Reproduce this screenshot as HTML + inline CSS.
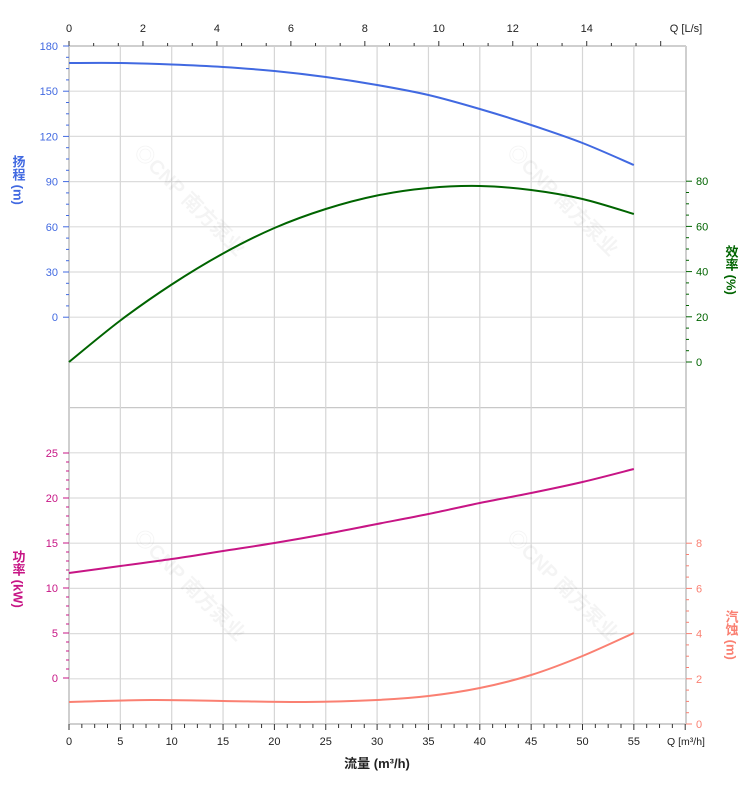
<!DOCTYPE html>
<html><head><meta charset="utf-8"><style>
body{margin:0;background:#fff;}
svg{display:block;font-family:"Liberation Sans","Noto Sans CJK SC",sans-serif;}
</style></head><body>
<svg id="s" width="752" height="797" xmlns="http://www.w3.org/2000/svg"></svg>
<script>
const s=document.getElementById('s');let h='';
const X=q=>69+10.27*q;
const L=69,R=686,T=46,B=724;
for(let k=0;k<=15;k++){const y=T+k*45.2;h+=`<line x1="${L}" x2="${R}" y1="${y}" y2="${y}" stroke="${k==8?'#c8c8c8':'#dcdcdc'}" stroke-width="1.2"/>`;}
for(let q=5;q<=55;q+=5){h+=`<line x1="${X(q)}" x2="${X(q)}" y1="${T}" y2="${B}" stroke="#d6d6d6" stroke-width="1.2"/>`;}
[[185,205],[558,205],[185,590],[558,590]].forEach(([x,y])=>{h+=`<text x="${x}" y="${y}" transform="rotate(45 ${x} ${y})" text-anchor="middle" font-size="20" font-weight="bold" fill="#000" opacity="0.04">◎CNP 南方泵业</text>`;});
h+=`<line x1="${L}" x2="${L}" y1="${T}" y2="${B}" stroke="#cfcfcf" stroke-width="2"/>`;
h+=`<line x1="${R}" x2="${R}" y1="${T}" y2="${B}" stroke="#cfcfcf" stroke-width="2"/>`;
h+=`<line x1="${L}" x2="${R}" y1="${T}" y2="${T}" stroke="#cfcfcf" stroke-width="2"/>`;
h+=`<line x1="${L}" x2="${R}" y1="${B}" y2="${B}" stroke="#cfcfcf" stroke-width="2"/>`;
for(let i=0;i<=24;i++){const v=i*2/3;const x=69+36.98*v;if(x>R-5)break;const maj=i%3==0;h+=`<line x1="${x}" x2="${x}" y1="${T}" y2="${T-(maj?5:3)}" stroke="#333"/>`;if(maj&&v<15)h+=`<text x="${x}" y="32" font-size="11" text-anchor="middle" fill="#222">${Math.round(v)}</text>`;}
h+=`<text x="686" y="32" font-size="11" text-anchor="middle" fill="#222">Q [L/s]</text>`;
for(let i=0;i<=48;i++){const q=i*1.25;const x=X(q);const maj=i%4==0;h+=`<line x1="${x}" x2="${x}" y1="${B}" y2="${B+(maj?6:4)}" stroke="#333"/>`;if(maj&&q<=55)h+=`<text x="${x}" y="745" font-size="11" text-anchor="middle" fill="#222">${q}</text>`;}
h+=`<text x="686" y="745" font-size="10.5" text-anchor="middle" fill="#222">Q [m³/h]</text>`;
h+=`<text x="377" y="768" font-size="13" font-weight="bold" text-anchor="middle" fill="#222">流量 (m³/h)</text>`;
for(let i=0;i<=24;i++){const y=T+i*11.3;const maj=i%4==0;h+=`<line x1="${L}" x2="${L-(maj?6:3)}" y1="${y}" y2="${y}" stroke="#4169e1"/>`;if(maj)h+=`<text x="58" y="${y+4}" font-size="11" text-anchor="end" fill="#4169e1">${180-i/4*30}</text>`;}
for(let i=0;i<=25;i++){const y=678-i*9;const maj=i%5==0;h+=`<line x1="${L}" x2="${L-(maj?6:3)}" y1="${y}" y2="${y}" stroke="#c71585"/>`;if(maj)h+=`<text x="58" y="${y+4}" font-size="11" text-anchor="end" fill="#c71585">${i}</text>`;}
for(let i=0;i<=16;i++){const y=362-i*11.3;const maj=i%4==0;h+=`<line x1="${R}" x2="${R+(maj?6:3)}" y1="${y}" y2="${y}" stroke="#006400"/>`;if(maj)h+=`<text x="696" y="${y+4}" font-size="11" fill="#006400">${i*5}</text>`;}
for(let i=0;i<=16;i++){const y=724-i*11.3;const maj=i%4==0;h+=`<line x1="${R}" x2="${R+(maj?6:3)}" y1="${y}" y2="${y}" stroke="#fa8072"/>`;if(maj)h+=`<text x="696" y="${y+4}" font-size="11" fill="#fa8072">${i/2}</text>`;}
function cr(pts,c,w){let d=`M${X(pts[0][0])},${pts[0][1]}`;const P=pts.map(p=>[X(p[0]),p[1]]);for(let i=0;i<P.length-1;i++){const p0=P[i-1]||P[i],p1=P[i],p2=P[i+1],p3=P[i+2]||P[i+1];d+=` C${p1[0]+(p2[0]-p0[0])/6},${p1[1]+(p2[1]-p0[1])/6} ${p2[0]-(p3[0]-p1[0])/6},${p2[1]-(p3[1]-p1[1])/6} ${p2[0]},${p2[1]}`;}h+=`<path d="${d}" fill="none" stroke="${c}" stroke-width="${w}"/>`;}
cr([[0,63],[5,63],[10,64.5],[15,67],[20,71],[25,77],[30,85],[35,95],[40,109],[45,125],[50,143],[55,165]],'#4169e1',2);
cr([[0,362],[5,320.5],[10,284.5],[15,253.5],[20,228],[25,209],[30,195.5],[35,188],[40,186],[45,190],[50,199],[55,214]],'#006400',2);
cr([[0,573],[5,566],[10,559],[15,551],[20,543],[25,534],[30,524],[35,514],[40,503],[45,493],[50,482],[55,469]],'#c71585',2);
cr([[0,702],[8,700],[15,701],[23,702],[30,700],[35,696],[40,688],[45,675],[50,656],[55,633]],'#fa8072',2);
function vt(x,y,txt,c){h+=`<text x="${x}" y="${y}" font-size="13" font-weight="bold" fill="${c}" style="writing-mode:vertical-rl;glyph-orientation-vertical:0">${txt}</text>`;}
vt(18,155,'扬程 (m)','#4169e1');
vt(18,550,'功率 (kW)','#c71585');
vt(731,245,'效率 (%)','#006400');
vt(731,610,'汽蚀 (m)','#fa8072');
s.innerHTML=h;
</script>
</body></html>
